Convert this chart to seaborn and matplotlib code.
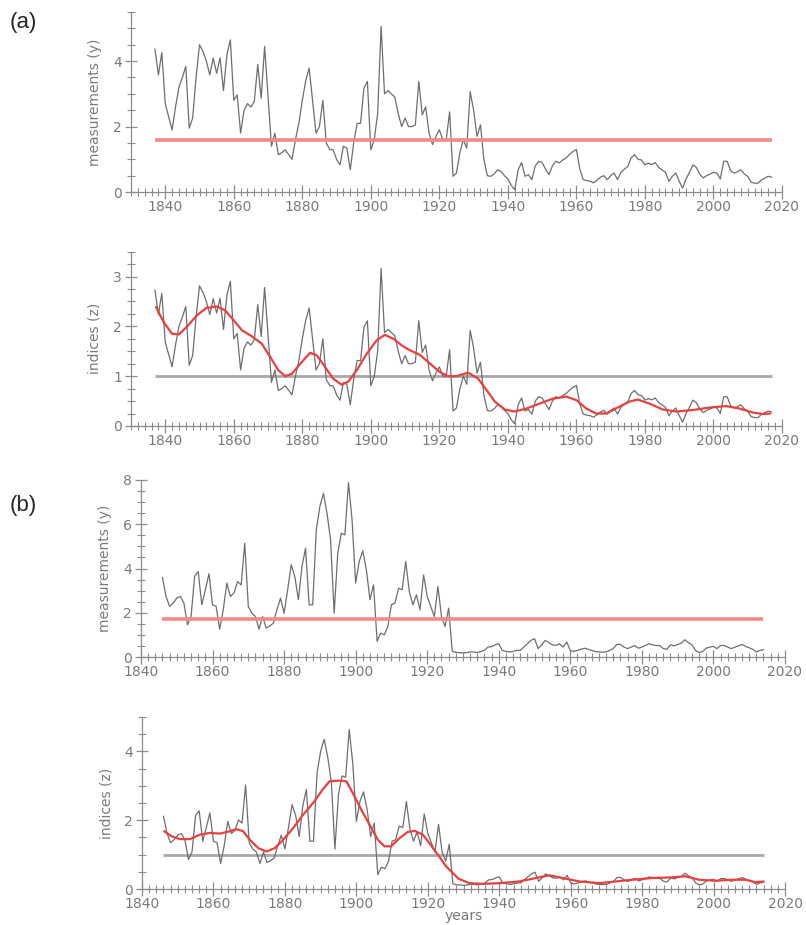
import numpy as np
import matplotlib.pyplot as plt
import seaborn as sns
from matplotlib.ticker import MultipleLocator

sns.set_style("white")
plt.rcParams['font.family'] = ['DejaVu Sans']

# ---- (a) annual measurements, 1837-2017 ----
years_a = np.arange(1837, 2018)
meas_a = [
    4.37, 3.58, 4.26, 2.70, 2.30, 1.90, 2.60, 3.20, 3.50, 3.84,
    1.95, 2.26, 3.50, 4.50, 4.30, 4.00, 3.58, 4.09, 3.63, 4.10,
    3.10, 4.20, 4.65, 2.80, 2.97, 1.80, 2.50, 2.70, 2.60, 2.77,
    3.90, 2.87, 4.45, 2.90, 1.40, 1.80, 1.14, 1.20, 1.29, 1.15,
    1.00, 1.60, 2.10, 2.80, 3.40, 3.79, 2.80, 1.80, 2.00, 2.80,
    1.50, 1.30, 1.29, 1.00, 0.83, 1.40, 1.34, 0.68, 1.50, 2.10,
    2.10, 3.18, 3.38, 1.29, 1.60, 2.40, 5.06, 3.00, 3.10, 3.00,
    2.90, 2.40, 2.00, 2.26, 2.00, 2.00, 2.05, 3.38, 2.36, 2.60,
    1.80, 1.45, 1.70, 1.90, 1.60, 1.60, 2.45, 0.48, 0.58, 1.20,
    1.60, 1.34, 3.07, 2.50, 1.70, 2.05, 1.00, 0.50, 0.48, 0.55,
    0.68, 0.63, 0.50, 0.40, 0.20, 0.07, 0.68, 0.90, 0.48, 0.53,
    0.38, 0.80, 0.94, 0.90, 0.70, 0.53, 0.80, 0.94, 0.89, 0.98,
    1.04, 1.15, 1.24, 1.30, 0.70, 0.38, 0.35, 0.33, 0.28, 0.36,
    0.45, 0.50, 0.38, 0.50, 0.58, 0.38, 0.60, 0.70, 0.78, 1.05,
    1.14, 1.00, 0.98, 0.83, 0.88, 0.84, 0.90, 0.75, 0.68, 0.60,
    0.33, 0.48, 0.58, 0.33, 0.12, 0.40, 0.60, 0.83, 0.75, 0.55,
    0.43, 0.50, 0.55, 0.60, 0.58, 0.40, 0.94, 0.94, 0.65, 0.58,
    0.62, 0.68, 0.55, 0.48, 0.30, 0.27, 0.27, 0.37, 0.43, 0.48,
    0.45,
]
level_a = 1.6  # long-term mean (red line)

smooth_years_a = [
    1837.3, 1839.5, 1842, 1844, 1846.3, 1849.2, 1852, 1855, 1857.5, 1860,
    1862.4, 1865.3, 1868.2, 1870.6, 1873, 1875, 1877, 1879.4, 1882.3, 1884.2,
    1886.6, 1889, 1891.5, 1893.4, 1895.9, 1898.8, 1901.7, 1904.1, 1906.6, 1909,
    1911.4, 1914.3, 1917.3, 1920.2, 1922.6, 1925, 1928.4, 1931.3, 1933.8, 1936.2,
    1939.1, 1942, 1945.4, 1949.3, 1953.2, 1957, 1960, 1962.9, 1965.8, 1968.7,
    1972.6, 1975.5, 1977.9, 1981.3, 1985.2, 1989.1, 1994, 1998.9, 2003.7, 2007.6,
    2011.5, 2014.4, 2016.6,
]
smooth_a = [
    2.39, 2.09, 1.85, 1.84, 1.99, 2.22, 2.37, 2.40, 2.32, 2.12,
    1.92, 1.80, 1.65, 1.39, 1.12, 1.00, 1.05, 1.25, 1.47, 1.42,
    1.19, 0.95, 0.83, 0.89, 1.12, 1.45, 1.72, 1.83, 1.75, 1.62,
    1.52, 1.43, 1.25, 1.08, 1.00, 1.00, 1.07, 0.95, 0.72, 0.49,
    0.33, 0.29, 0.35, 0.45, 0.55, 0.59, 0.52, 0.35, 0.25, 0.25,
    0.39, 0.49, 0.53, 0.45, 0.33, 0.29, 0.32, 0.37, 0.40, 0.35,
    0.27, 0.24, 0.25,
]

# ---- (b) annual measurements, 1846-2014 ----
years_b = np.arange(1846, 2015)
meas_b = [
    3.60, 2.74, 2.29, 2.44, 2.66, 2.74, 2.44, 1.46, 1.83, 3.64,
    3.86, 2.36, 3.04, 3.76, 2.36, 2.29, 1.26, 2.14, 3.34, 2.74,
    2.89, 3.41, 3.26, 5.14, 2.29, 1.98, 1.83, 1.26, 1.83, 1.31,
    1.40, 1.53, 2.14, 2.66, 1.98, 3.04, 4.17, 3.64, 2.59, 4.09,
    4.92, 2.36, 2.36, 5.74, 6.80, 7.40, 6.50, 5.29, 1.98, 4.69,
    5.59, 5.52, 7.88, 6.20, 3.34, 4.32, 4.80, 3.94, 2.59, 3.26,
    0.71, 1.08, 1.00, 1.38, 2.36, 2.44, 3.11, 3.04, 4.32, 2.96,
    2.36, 2.81, 2.14, 3.71, 2.74, 2.29, 1.83, 3.19, 1.83, 1.38,
    2.21, 0.26, 0.21, 0.20, 0.18, 0.20, 0.23, 0.23, 0.20, 0.25,
    0.30, 0.45, 0.47, 0.55, 0.60, 0.30, 0.25, 0.23, 0.25, 0.30,
    0.30, 0.45, 0.60, 0.75, 0.83, 0.38, 0.55, 0.75, 0.65, 0.55,
    0.53, 0.60, 0.45, 0.68, 0.30, 0.25, 0.30, 0.35, 0.40, 0.35,
    0.30, 0.25, 0.23, 0.22, 0.23, 0.30, 0.38, 0.57, 0.57, 0.45,
    0.38, 0.45, 0.52, 0.40, 0.45, 0.52, 0.60, 0.55, 0.52, 0.52,
    0.38, 0.35, 0.55, 0.50, 0.57, 0.62, 0.78, 0.65, 0.55, 0.30,
    0.20, 0.25, 0.40, 0.45, 0.48, 0.38, 0.52, 0.52, 0.45, 0.38,
    0.45, 0.50, 0.57, 0.48, 0.42, 0.35, 0.23, 0.30, 0.33,
]
level_b = 1.7

smooth_years_b = [
    1846.2, 1848.3, 1850.6, 1853.4, 1856.2, 1859, 1861.8, 1864.6, 1866.4, 1868.3,
    1870.2, 1872.5, 1874.8, 1877.2, 1879.5, 1882.3, 1885.1, 1887.9, 1890.7, 1892.5,
    1895.3, 1897.2, 1899, 1901.4, 1903.7, 1906, 1907.9, 1909.7, 1912.1, 1914.4,
    1916.3, 1918.6, 1920.4, 1922.8, 1925.1, 1928.6, 1931.6, 1935.3, 1940, 1945.6,
    1950.3, 1954, 1957.7, 1962.4, 1968, 1972.6, 1977.3, 1982.8, 1988.4, 1992.1,
    1995.9, 2000.5, 2005.2, 2008.9, 2011.7, 2014,
]
smooth_b = [
    1.68, 1.53, 1.45, 1.45, 1.58, 1.63, 1.61, 1.68, 1.74, 1.68,
    1.43, 1.19, 1.09, 1.19, 1.43, 1.77, 2.16, 2.50, 2.91, 3.13,
    3.15, 3.13, 2.79, 2.30, 1.87, 1.43, 1.24, 1.24, 1.48, 1.66,
    1.69, 1.58, 1.34, 1.00, 0.66, 0.30, 0.17, 0.15, 0.17, 0.22,
    0.32, 0.40, 0.32, 0.22, 0.17, 0.22, 0.27, 0.32, 0.34, 0.37,
    0.27, 0.24, 0.27, 0.27, 0.20, 0.22,
]

# indices = measurement relative to the long-term mean
idx_a = np.array(meas_a) / level_a
idx_b = np.array(meas_b) / level_b

GRAY = "#6e6e6e"
AXC = "#8c8c8c"
TXT = "#7a7a7a"
PINK = "#f28a8a"
RED = "#e8403f"

fig = plt.figure(figsize=(8.06, 9.25), dpi=100)


def style_axis(ax, xlim, ylim, ymaj, ymin, ylabel, xlabel=None):
    ax.set_xlim(*xlim)
    ax.set_ylim(*ylim)
    ax.xaxis.set_major_locator(MultipleLocator(20))
    ax.xaxis.set_minor_locator(MultipleLocator(2))
    ax.yaxis.set_major_locator(MultipleLocator(ymaj))
    ax.yaxis.set_minor_locator(MultipleLocator(ymin))
    sns.despine(ax=ax)
    for s in ["left", "bottom"]:
        ax.spines[s].set_color(AXC)
        ax.spines[s].set_linewidth(0.9)
    ax.tick_params(which="both", bottom=True, left=True)
    ax.tick_params(which="major", direction="inout", length=10, width=0.9,
                   color=AXC, labelcolor=TXT, labelsize=10, pad=1)
    ax.tick_params(which="minor", direction="inout", length=6, width=0.8, color=AXC)
    ax.tick_params(axis="y", which="major", length=9, pad=2)
    ax.set_ylabel(ylabel, color=TXT, fontsize=10, labelpad=8)
    if xlabel:
        ax.set_xlabel(xlabel, color=TXT, fontsize=10, labelpad=-2)
    ax.patch.set_alpha(0)


# panel (a) measurements
ax1 = fig.add_axes([0.1625, 0.7924, 0.8077, 0.1946])
sns.lineplot(x=years_a, y=meas_a, ax=ax1, color=GRAY, lw=0.9)
ax1.hlines(level_a, years_a[0], years_a[-1], color=PINK, lw=2.6)
style_axis(ax1, (1830, 2020), (0, 5.5), 2, 0.5, "measurements (y)")

# panel (a) indices
ax2 = fig.add_axes([0.1625, 0.5395, 0.8077, 0.1884])
ax2.hlines(1.0, years_a[0], years_a[-1], color="#a8a8a8", lw=2.0)
sns.lineplot(x=years_a, y=idx_a, ax=ax2, color=GRAY, lw=0.9)
sns.lineplot(x=smooth_years_a, y=smooth_a, ax=ax2, color=RED, lw=1.6)
style_axis(ax2, (1830, 2020), (0, 3.5), 1, 0.25, "indices (z)")

# panel (b) measurements
ax3 = fig.add_axes([0.1749, 0.2897, 0.7990, 0.1914])
sns.lineplot(x=years_b, y=meas_b, ax=ax3, color=GRAY, lw=0.9)
ax3.hlines(level_b, years_b[0], years_b[-1], color=PINK, lw=2.6)
style_axis(ax3, (1840, 2020), (0, 8), 2, 0.5, "measurements (y)")

# panel (b) indices
ax4 = fig.add_axes([0.1762, 0.0389, 0.7978, 0.1860])
ax4.hlines(1.0, years_b[0], years_b[-1], color="#a8a8a8", lw=2.0)
sns.lineplot(x=years_b, y=idx_b, ax=ax4, color=GRAY, lw=0.9)
sns.lineplot(x=smooth_years_b, y=smooth_b, ax=ax4, color=RED, lw=1.6)
style_axis(ax4, (1840, 2020), (0, 5), 2, 0.5, "indices (z)", xlabel="years")

fig.text(0.012, 0.976, "(a)", fontsize=16, family="Liberation Sans", va="center")
fig.text(0.012, 0.454, "(b)", fontsize=16, family="Liberation Sans", va="center")

fig.savefig("out.png", dpi=100)
